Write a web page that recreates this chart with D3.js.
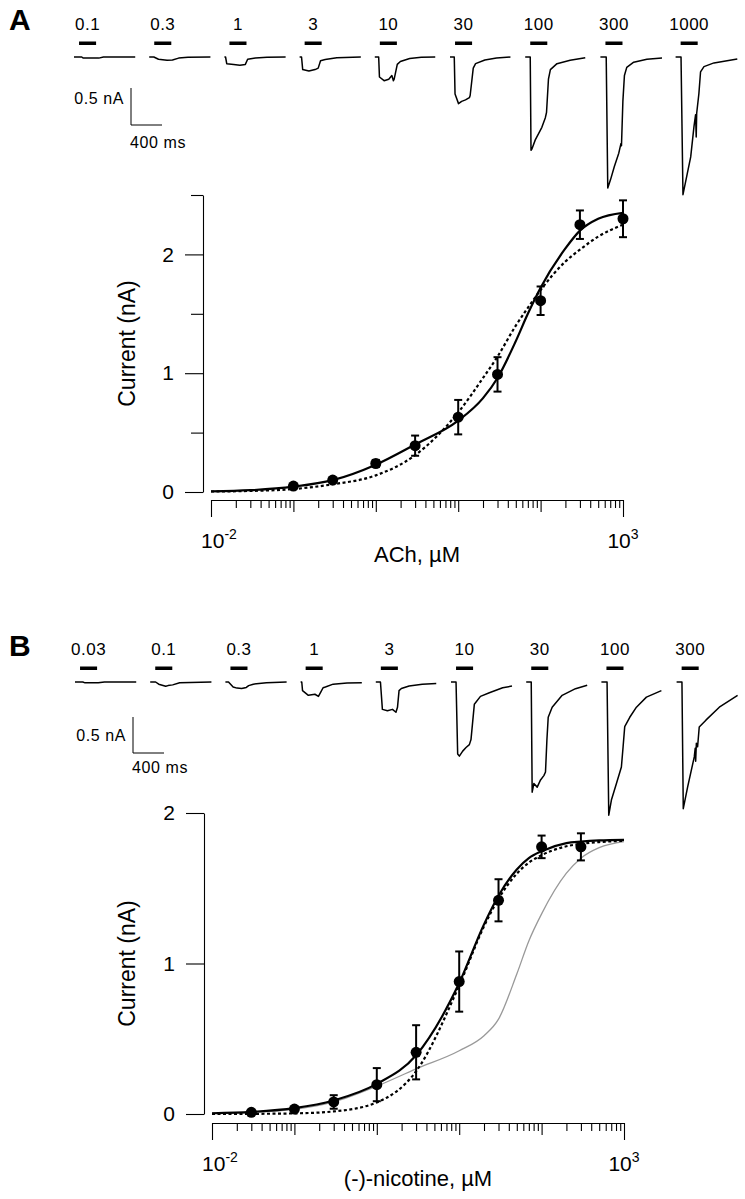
<!DOCTYPE html>
<html lang="en">
<head>
<meta charset="UTF-8">
<title>ACh and (-)-nicotine concentration-response</title>
<script src="https://d3js.org/d3.v7.min.js"></script>
<style>
  body { margin: 0; background: #fff; }
  svg { display: block; font-family: 'Liberation Sans', Arial, Helvetica, sans-serif; }
  .trace { fill: none; stroke: #000; stroke-width: 1.5; stroke-linejoin: round; }
  .conc { font-size: 17px; letter-spacing: 0.5px; text-anchor: middle; }
  .sb { fill: none; stroke: #000; stroke-width: 1; }
  .sbtext { font-size: 16px; letter-spacing: 0.6px; }
  .panel { font-size: 30px; font-weight: bold; }
  .axis path, .axis line { stroke: #000; stroke-width: 1.1; }
  .axis text { font-size: 21px; fill: #000; font-family: 'Liberation Sans', Arial, sans-serif; }
  .title { font-size: 22px; text-anchor: middle; }
  .ytitle { font-size: 23px; text-anchor: middle; }
  .fit-solid { fill: none; stroke: #000; stroke-width: 2.2; }
  .fit-dot { fill: none; stroke: #000; stroke-width: 2.2; stroke-dasharray: 3 2.5; }
  .fit-grey { fill: none; stroke: #999; stroke-width: 1.3; }
  .err { stroke: #000; stroke-width: 2; }
</style>
</head>
<body>
<svg id="fig" width="745" height="1199"></svg>
<script>
// ---- panel A: ACh ----
const achLabels = ['0.1', '0.3', '1', '3', '10', '30', '100', '300', '1000'];
const achConc = [0.1, 0.3, 1, 3, 10, 30, 100, 300, 1000];
const achMean = [0.05, 0.1, 0.24, 0.39, 0.63, 0.99, 1.61, 2.25, 2.30];
const achSem = [0.01, 0.015, 0.03, 0.085, 0.145, 0.145, 0.12, 0.12, 0.155];

// current traces, [time ms, current nA]
const achTraces = [
  [[0,0],[100,0],[120,-0.015],[320,-0.015],[380,0],[790,0]],
  [[0,0],[60,0],[120,-0.03],[230,-0.045],[300,-0.04],[380,-0.015],[500,-0.005],[790,0]],
  [[0,0],[15,0],[30,-0.09],[120,-0.1],[200,-0.11],[270,-0.1],[300,-0.03],[400,-0.015],[550,-0.005],[790,0]],
  [[0,0],[25,0],[40,-0.17],[120,-0.19],[200,-0.17],[240,-0.15],[270,-0.05],[330,-0.035],[480,-0.01],[790,0]],
  [[0,0],[50,0],[60,-0.27],[120,-0.32],[180,-0.3],[220,-0.25],[240,-0.32],[250,-0.3],[290,-0.1],[330,-0.06],[450,-0.02],[600,-0.005],[780,0]],
  [[0,0],[55,0],[65,-0.5],[110,-0.63],[150,-0.6],[200,-0.58],[250,-0.55],[260,-0.52],[300,-0.15],[330,-0.09],[450,-0.04],[600,-0.015],[780,0]],
  [[0,0],[65,0],[75,-1.26],[88,-1.24],[130,-1.12],[215,-0.95],[260,-0.82],[275,-0.75],[300,-0.3],[325,-0.17],[410,-0.09],[580,-0.045],[775,-0.01]],
  [[0,0],[75,0],[95,-1.77],[130,-1.66],[180,-1.48],[237,-1.3],[265,-1.17],[272,-1.2],[290,-0.6],[310,-0.25],[340,-0.14],[430,-0.07],[600,-0.03],[795,-0.015]],
  [[0,0],[70,0],[95,-1.86],[150,-1.58],[195,-1.35],[237,-0.94],[258,-0.78],[266,-1.08],[272,-0.76],[300,-0.5],[322,-0.2],[366,-0.13],[495,-0.08],[796,-0.027]]
];

// fitted curves
const fitX = [0.01, 0.03, 0.1, 0.3, 1, 3, 10, 20, 30, 50, 70, 100, 200, 300, 500, 1000];
const achSolid = [0.005, 0.015, 0.045, 0.1, 0.23, 0.4, 0.6, 0.79, 0.96, 1.27, 1.5, 1.72, 2.05, 2.2, 2.3, 2.35];
const achDotted = [0.004, 0.009, 0.025, 0.065, 0.14, 0.31, 0.67, 0.96, 1.14, 1.4, 1.55, 1.7, 1.94, 2.04, 2.15, 2.25];

// ---- panel B: (-)-nicotine ----
const nicLabels = ['0.03', '0.1', '0.3', '1', '3', '10', '30', '100', '300'];
const nicConc = [0.03, 0.1, 0.3, 1, 3, 10, 30, 100, 300];
const nicMean = [0.011, 0.033, 0.08, 0.195, 0.41, 0.88, 1.42, 1.775, 1.775];
const nicSem = [0.01, 0.01, 0.045, 0.11, 0.18, 0.2, 0.14, 0.075, 0.09];

const nicTraces = [
  [[0,0],[100,0],[130,-0.012],[300,-0.012],[380,0],[790,0]],
  [[0,0],[70,0],[110,-0.03],[200,-0.06],[230,-0.05],[290,-0.04],[380,-0.01],[790,0]],
  [[0,0],[40,0],[100,-0.07],[150,-0.085],[210,-0.09],[270,-0.075],[300,-0.05],[360,-0.03],[530,-0.01],[790,0]],
  [[0,0],[15,0],[25,-0.12],[100,-0.185],[185,-0.17],[230,-0.2],[260,-0.14],[290,-0.08],[320,-0.07],[420,-0.03],[600,-0.015],[790,-0.01]],
  [[0,0],[60,0],[85,-0.38],[150,-0.4],[215,-0.38],[260,-0.42],[280,-0.35],[300,-0.12],[330,-0.09],[430,-0.055],[600,-0.03],[780,-0.02]],
  [[0,0],[65,0],[86,-1.0],[108,-1.03],[151,-0.96],[194,-0.91],[237,-0.87],[258,-0.8],[301,-0.31],[380,-0.2],[495,-0.15],[667,-0.08],[787,-0.056]],
  [[0,0],[65,0],[77,-1.53],[99,-1.41],[142,-1.46],[185,-1.36],[228,-1.3],[249,-1.25],[267,-0.81],[284,-0.49],[335,-0.35],[464,-0.185],[636,-0.093],[787,-0.046]],
  [[0,0],[73,0],[95,-1.85],[129,-1.64],[194,-1.41],[258,-1.18],[280,-0.9],[301,-0.62],[366,-0.49],[452,-0.35],[581,-0.21],[774,-0.12]],
  [[0,0],[69,0],[86,-1.76],[142,-1.46],[228,-1.04],[240,-0.92],[246,-1.1],[255,-0.85],[271,-0.9],[292,-0.625],[378,-0.53],[551,-0.35],[787,-0.185]]
];

const nicSolid = [0.005, 0.014, 0.039, 0.09, 0.2, 0.39, 0.87, 1.26, 1.45, 1.625, 1.7, 1.746, 1.8, 1.81, 1.818, 1.822];
const nicDotted = [0.0002, 0.001, 0.004, 0.017, 0.077, 0.284, 0.854, 1.247, 1.43, 1.597, 1.67, 1.72, 1.779, 1.795, 1.807, 1.815];
const nicGrey = [0.003, 0.01, 0.031, 0.08, 0.185, 0.3, 0.42, 0.52, 0.63, 0.93, 1.15, 1.33, 1.6, 1.7, 1.77, 1.81];

const application = [65, 285]; // ms, drug bar
const svg = d3.select('#fig');

function drawTraces(cfg) {
  const g = svg.append('g');
  const band = d3.scaleBand().domain(cfg.labels).range([cfg.x0, cfg.x0 + 9 * 75.2]);
  const t = d3.scaleLinear().domain([0, 400]).range([0, 31]);
  const yT = d3.scaleLinear().domain([0, -0.5]).range([cfg.base, cfg.base + cfg.halfNA]);

  cfg.labels.forEach((lab, i) => {
    const bx = band(lab);
    g.append('text').attr('class', 'conc')
      .attr('x', bx + t(d3.mean(application))).attr('y', cfg.base - 27).text(lab);
    g.append('rect')
      .attr('x', bx + t(application[0])).attr('y', cfg.base - 15.5)
      .attr('width', t(application[1]) - t(application[0])).attr('height', 3.5);
    const line = d3.line().x(d => bx + t(d[0])).y(d => yT(d[1]));
    g.append('path').attr('class', 'trace').attr('d', line(cfg.traces[i]));
  });

  // scale bar
  const sx = cfg.sbX, sy = cfg.sbY;
  g.append('path').attr('class', 'sb')
    .attr('d', `M${sx},${sy}V${sy + cfg.halfNA}H${sx + t(400)}`);
  g.append('text').attr('class', 'sbtext').attr('text-anchor', 'end')
    .attr('x', sx - 7).attr('y', cfg.nAy).text('0.5 nA');
  g.append('text').attr('class', 'sbtext')
    .attr('x', sx - 1).attr('y', cfg.msY).text('400 ms');

  svg.append('text').attr('class', 'panel').attr('x', 9).attr('y', cfg.letterY).text(cfg.letter);
}

function drawCurve(cfg) {
  const g = svg.append('g');
  const x = d3.scaleLog().domain([0.01, 1000]).range([cfg.xl, cfg.xr]);
  const y = d3.scaleLinear().domain([0, cfg.ymax]).range([cfg.y0, cfg.ytop]);

  // y axis
  g.append('g').attr('class', 'axis').attr('transform', `translate(${cfg.yx},0)`)
    .call(d3.axisLeft(y).tickValues([0, 1, 2]).tickSize(18).tickPadding(11).tickSizeOuter(0).tickFormat(d3.format('d')));
  if (cfg.yMinor.length) {
    g.append('g').attr('class', 'axis').attr('transform', `translate(${cfg.yx},0)`)
      .call(d3.axisLeft(y).tickValues(cfg.yMinor).tickSize(12).tickFormat(''))
      .select('.domain').remove();
  }

  // x axis (log, no labels except ends)
  const minor = [];
  for (let e = -2; e < 3; e++) for (let m = 2; m <= 9; m++) minor.push(m * Math.pow(10, e));
  const xa = g.append('g').attr('class', 'axis').attr('transform', `translate(0,${cfg.xaxY})`);
  xa.call(d3.axisBottom(x).tickValues(minor).tickSize(8).tickSizeOuter(0).tickFormat(''));
  xa.append('g').call(d3.axisBottom(x).tickValues([0.1, 1, 10, 100]).tickSize(12).tickFormat(''))
    .select('.domain').remove();
  xa.append('g').call(d3.axisBottom(x).tickValues([0.01, 1000]).tickSize(17).tickFormat(''))
    .select('.domain').remove();
  [[0.01, '-2'], [1000, '3']].forEach(([v, ex], i) => {
    const tx = g.append('text').attr('text-anchor', 'middle')
      .attr('x', x(v) + (i === 0 ? 8 : 0)).attr('y', cfg.xaxY + 48).style('font-size', '21px');
    tx.append('tspan').text('10');
    tx.append('tspan').attr('dy', -9).style('font-size', '14px').text(ex);
  });
  g.append('text').attr('class', 'title')
    .attr('x', (cfg.xl + cfg.xr) / 2).attr('y', cfg.titleY).text(cfg.title);
  g.append('text').attr('class', 'ytitle')
    .attr('transform', `translate(135,${(cfg.y0 + cfg.ytop) / 2}) rotate(-90)`)
    .text('Current (nA)');

  const line = d3.line().x(d => x(d[0])).y(d => y(d[1])).curve(d3.curveMonotoneX);
  cfg.fits.forEach(f => {
    g.append('path').attr('class', f.cls).attr('d', line(fitX.map((v, i) => [v, f.values[i]])));
  });

  // error bars and points
  cfg.conc.forEach((c, i) => {
    const cx = x(c), lo = y(cfg.mean[i] - cfg.sem[i]), hi = y(cfg.mean[i] + cfg.sem[i]);
    g.append('line').attr('class', 'err').attr('x1', cx).attr('x2', cx).attr('y1', lo).attr('y2', hi);
    g.append('line').attr('class', 'err').attr('x1', cx - 4).attr('x2', cx + 4).attr('y1', lo).attr('y2', lo);
    g.append('line').attr('class', 'err').attr('x1', cx - 4).attr('x2', cx + 4).attr('y1', hi).attr('y2', hi);
    g.append('circle').attr('cx', cx).attr('cy', y(cfg.mean[i])).attr('r', 5.5).attr('fill', '#000');
  });
}

drawTraces({ letter: 'A', letterY: 30, labels: achLabels, traces: achTraces, x0: 74, base: 57,
  halfNA: 37, sbX: 131, sbY: 88, nAy: 104, msY: 148 });
drawCurve({ xl: 211, xr: 623, xaxY: 500, yx: 203, y0: 492, ytop: 195, ymax: 2.5, yMinor: [0.5, 1.5, 2.5],
  titleY: 562, title: 'ACh, \u00b5M', conc: achConc, mean: achMean, sem: achSem,
  fits: [{ cls: 'fit-dot', values: achDotted }, { cls: 'fit-solid', values: achSolid }] });

drawTraces({ letter: 'B', letterY: 656, labels: nicLabels, traces: nicTraces, x0: 75, base: 682,
  halfNA: 36, sbX: 133, sbY: 717, nAy: 741, msY: 773 });
drawCurve({ xl: 212, xr: 624, xaxY: 1123, yx: 204, y0: 1114, ytop: 813, ymax: 2, yMinor: [],
  titleY: 1186, title: '(-)-nicotine, \u00b5M', conc: nicConc, mean: nicMean, sem: nicSem,
  fits: [{ cls: 'fit-grey', values: nicGrey }, { cls: 'fit-dot', values: nicDotted }, { cls: 'fit-solid', values: nicSolid }] });
</script>
</body>
</html>
